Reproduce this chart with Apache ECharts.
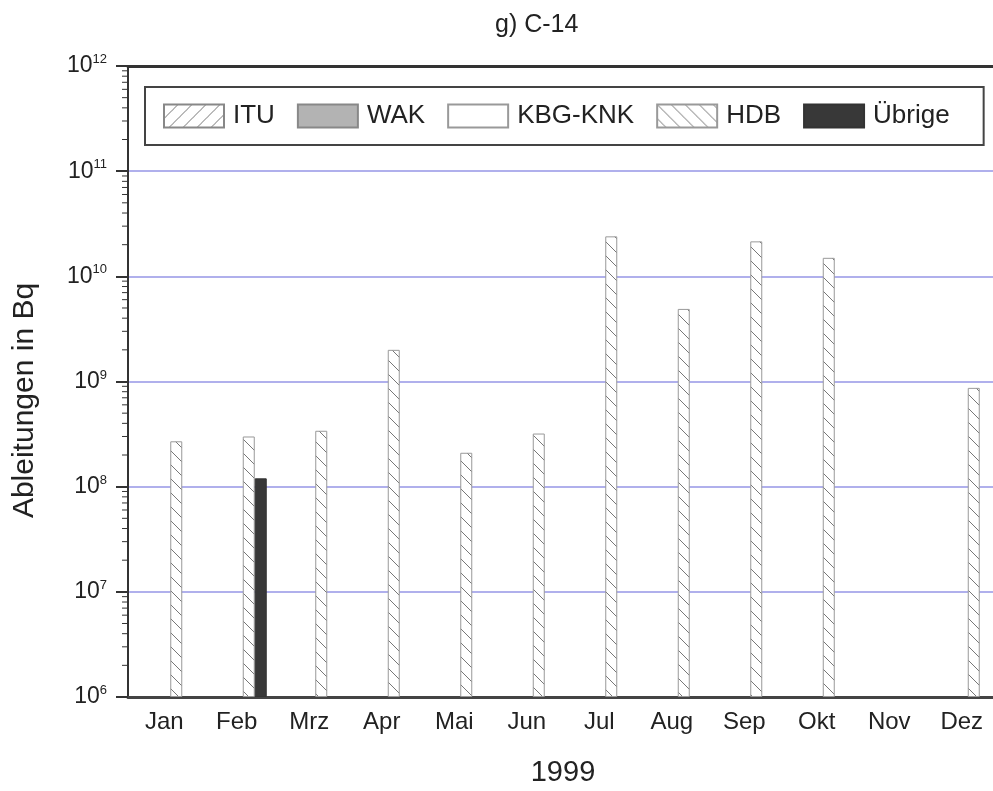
<!DOCTYPE html>
<html>
<head>
<meta charset="utf-8">
<script src="https://cdn.jsdelivr.net/npm/echarts@6/dist/echarts.min.js"></script>
<style>
  html, body { margin: 0; padding: 0; background: #fff; }
  #main { width: 993px; height: 791px; }
</style>
</head>
<body>
<div id="main"></div>
<script>
// data
var months = ['Jan', 'Feb', 'Mrz', 'Apr', 'Mai', 'Jun', 'Jul', 'Aug', 'Sep', 'Okt', 'Nov', 'Dez'];
var seriesNames = ['ITU', 'WAK', 'KBG-KNK', 'HDB', 'Übrige'];
var itu    = [null, null, null, null, null, null, null, null, null, null, null, null];
var wak    = [null, null, null, null, null, null, null, null, null, null, null, null];
var kbgknk = [null, null, null, null, null, null, null, null, null, null, null, null];
var hdb    = [2.7e8, 3.0e8, 3.4e8, 2.0e9, 2.1e8, 3.2e8, 2.4e10, 4.9e9, 2.15e10, 1.5e10, null, 8.7e8];
var uebrige = [null, 1.2e8, null, null, null, null, null, null, null, null, null, null];
var yMin = 1e6, yMax = 1e12;

// minor ticks 2..9 per decade
var minorVals = [];
for (var e = 6; e < 12; e++) {
  for (var m = 2; m <= 9; m++) minorVals.push(m * Math.pow(10, e));
}

function hatch(dir) {
  var s = 14;
  var c = document.createElement('canvas');
  c.width = s; c.height = s;
  var g = c.getContext('2d');
  g.fillStyle = '#fff';
  g.fillRect(0, 0, s, s);
  g.strokeStyle = '#777';
  g.lineWidth = 1;
  g.beginPath();
  for (var k = -s; k <= s; k += s) {
    if (dir === 'back') { g.moveTo(k, 0); g.lineTo(k + s, s); }
    else { g.moveTo(k, s); g.lineTo(k + s, 0); }
  }
  g.stroke();
  return { image: c, repeat: 'repeat' };
}

var font = '"Liberation Sans", Arial, sans-serif';
var gridBlue = '#b0b0ec';
var chart = echarts.init(document.getElementById('main'));

function bar(name, data, style) {
  return {
    name: name, type: 'bar', data: data,
    barWidth: 12, barGap: '0%', clip: true,
    itemStyle: style
  };
}

chart.setOption({
  animation: false,
  backgroundColor: '#fff',
  textStyle: { fontFamily: font },
  title: {
    text: 'g) C-14',
    left: 490, top: 8,
    textStyle: { fontFamily: font, fontSize: 25, fontWeight: 'normal', color: '#222' }
  },
  legend: {
    data: seriesNames,
    left: 145, top: 87,
    orient: 'horizontal',
    padding: [16, 34, 16, 18],
    itemGap: 22,
    itemWidth: 60, itemHeight: 23,
    borderColor: '#444', borderWidth: 2,
    icon: 'rect',
    textStyle: { fontFamily: font, fontSize: 26, color: '#222', lineHeight: 26, padding: [0, 0, 0, 4] }
  },
  grid: { left: 128, right: -5, top: 66, bottom: 94, outerBoundsMode: 'none', containLabel: false },
  xAxis: [{
    type: 'category',
    data: months,
    name: '1999',
    nameLocation: 'middle',
    nameGap: 61,
    nameTextStyle: { fontFamily: font, fontSize: 29, color: '#222' },
    axisLine: { lineStyle: { color: '#444', width: 3 } },
    axisTick: { inside: true, length: 9, lineStyle: { color: '#333', width: 2 } },
    axisLabel: { fontFamily: font, fontSize: 24, color: '#222', margin: 13 },
    splitLine: { show: false }
  }, {
    type: 'category',
    data: months,
    position: 'top',
    axisLine: { lineStyle: { color: '#333', width: 3 } },
    axisTick: { show: false },
    axisLabel: { show: false },
    splitLine: { show: false }
  }],
  yAxis: [{
    type: 'log',
    logBase: 10,
    min: yMin, max: yMax,
    interval: 1,
    startValue: yMin,
    name: 'Ableitungen in Bq',
    nameLocation: 'middle',
    nameGap: 88,
    nameTextStyle: { fontFamily: font, fontSize: 30, color: '#222', padding: [0, 38, 0, 0] },
    axisLine: { show: true, lineStyle: { color: '#333', width: 2 } },
    axisTick: { show: true, length: 12, lineStyle: { color: '#333', width: 2 } },
    axisLabel: {
      margin: 21,
      formatter: function (v) {
        var ex = Math.round(Math.log10(v));
        return '{b|10}{s|' + ex + '}';
      },
      rich: {
        b: { fontFamily: font, fontSize: 23, color: '#222', lineHeight: 26 },
        s: { fontFamily: font, fontSize: 13, color: '#222', verticalAlign: 'top', lineHeight: 26, padding: [0, 0, 12, 0] }
      }
    },
    splitLine: { show: true, lineStyle: { color: gridBlue, width: 2 } },
    minorSplitLine: { show: false }
  }],
  series: [
    bar('ITU', itu, { color: hatch('fwd'), borderColor: '#888', borderWidth: 1 }),
    bar('WAK', wak, { color: '#b3b3b3', borderColor: '#888', borderWidth: 1 }),
    bar('KBG-KNK', kbgknk, { color: '#fff', borderColor: '#999', borderWidth: 1 }),
    bar('HDB', hdb, { color: hatch('back'), borderColor: '#999', borderWidth: 1 }),
    bar('Übrige', uebrige, { color: '#383838', borderColor: '#333', borderWidth: 1 }),
    {
      // minor ticks of the log axis, placed through the axis scale
      type: 'custom',
      silent: true,
      clip: false,
      data: minorVals.map(function (v) { return [0, v]; }),
      renderItem: function (params, api) {
        var p = api.coord([0, api.value(1)]);
        var x0 = p[0] - api.size([1, 0])[0] / 2;
        return {
          type: 'line',
          shape: { x1: x0 - 6, y1: p[1], x2: x0, y2: p[1] },
          style: { stroke: '#333', lineWidth: 1 }
        };
      }
    }
  ]
});
</script>
</body>
</html>
